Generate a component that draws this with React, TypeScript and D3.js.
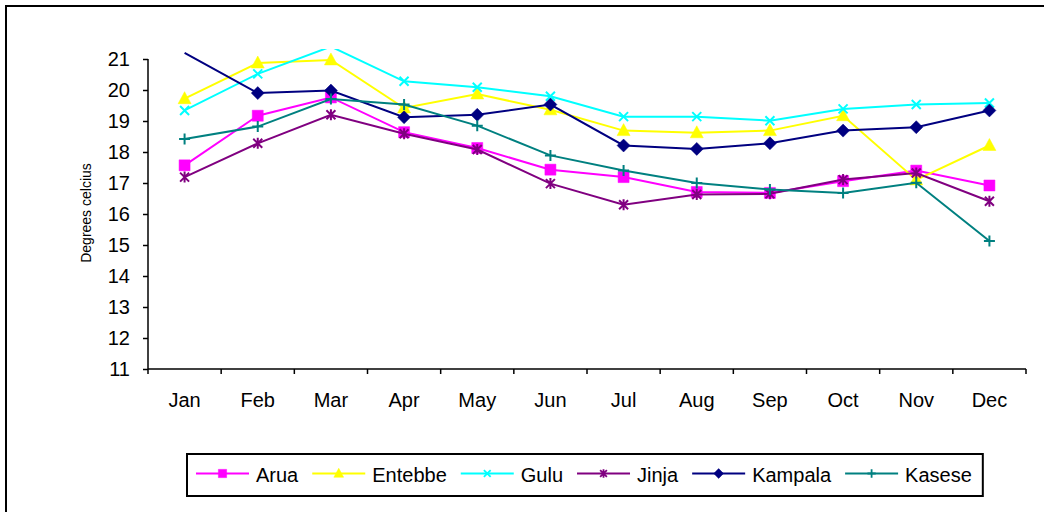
import { useEffect, useRef } from 'react';
import * as d3 from 'd3';

const months = ['Jan', 'Feb', 'Mar', 'Apr', 'May', 'Jun', 'Jul', 'Aug', 'Sep', 'Oct', 'Nov', 'Dec'];
const yTicks = [11, 12, 13, 14, 15, 16, 17, 18, 19, 20, 21];

const arua = [17.57, 19.17, 19.76, 18.64, 18.13, 17.43, 17.19, 16.71, 16.68, 17.06, 17.4, 16.92];
const entebbe = [19.72, 20.87, 20.97, 19.42, 19.87, 19.36, 18.69, 18.62, 18.69, 19.17, 17.1, 18.21];
const gulu = [19.34, 20.52, 21.4, 20.28, 20.09, 19.8, 19.14, 19.14, 19.01, 19.39, 19.53, 19.58];
const jinja = [17.19, 18.28, 19.2, 18.59, 18.08, 16.98, 16.3, 16.63, 16.65, 17.11, 17.32, 16.41];
const kampala = [21.2, 19.9, 19.98, 19.12, 19.2, 19.53, 18.21, 18.1, 18.28, 18.69, 18.8, 19.34];
const kasese = [18.42, 18.82, 19.71, 19.53, 18.85, 17.89, 17.4, 17.0, 16.79, 16.68, 17.01, 15.13];

const seriesNames = ['Arua', 'Entebbe', 'Gulu', 'Jinja', 'Kampala', 'Kasese'];
const seriesValues = [arua, entebbe, gulu, jinja, kampala, kasese];
const seriesColors = ['#FF00FF', '#FFFF00', '#00FFFF', '#800080', '#000080', '#008080'];
const seriesMarkers = ['square', 'triangle', 'x', 'star', 'diamond', 'plus'];

// marker shapes, k = scale
const markerPath = (type: string, k: number) => {
  const s = (v: number) => (v * k).toFixed(2);
  switch (type) {
    case 'square':
      return `M${s(-5.5)},${s(-5.5)}H${s(5.5)}V${s(5.5)}H${s(-5.5)}Z`;
    case 'triangle':
      return `M0,${s(-7)}L${s(6.5)},${s(5)}L${s(-6.5)},${s(5)}Z`;
    case 'diamond':
      return `M0,${s(-6.5)}L${s(6.5)},0L0,${s(6.5)}L${s(-6.5)},0Z`;
    case 'x':
      return `M${s(-4.5)},${s(-4.5)}L${s(4.5)},${s(4.5)}M${s(-4.5)},${s(4.5)}L${s(4.5)},${s(-4.5)}`;
    case 'star':
      return `M${s(-4.5)},${s(-4.5)}L${s(4.5)},${s(4.5)}M${s(-4.5)},${s(4.5)}L${s(4.5)},${s(-4.5)}M0,${s(-5.5)}V${s(5.5)}`;
    case 'plus':
      return `M${s(-5.5)},0H${s(5.5)}M0,${s(-5.5)}V${s(5.5)}`;
  }
  return '';
};
const filled = (type: string) => type === 'square' || type === 'triangle' || type === 'diamond';

const App = () => {
  const ref = useRef<SVGSVGElement>(null);

  useEffect(() => {
    const width = 1044;
    const height = 512;
    const svg = d3.select(ref.current).attr('width', width).attr('height', height);
    svg.selectAll('*').remove();

    const font = 'Arial, "Liberation Sans", sans-serif';

    svg.append('rect').attr('width', width).attr('height', height).attr('fill', '#fff');
    // outer chart border (runs off right/bottom)
    svg.append('rect')
      .attr('x', 6).attr('y', 6).attr('width', 1060).attr('height', 530)
      .attr('fill', 'none').attr('stroke', '#000').attr('stroke-width', 2);

    const x = d3.scaleBand().domain(months).range([148, 1026]).padding(0);
    const y = d3.scaleLinear().domain([11, 21]).range([369, 59]);
    const cx = (m: string) => (x(m) as number) + x.bandwidth() / 2;

    // y axis
    const yAxis = svg.append('g').attr('transform', 'translate(148,0)')
      .call(d3.axisLeft(y).tickValues(yTicks).tickSize(5).tickPadding(13).tickFormat(d3.format('d')));
    yAxis.select('.domain').attr('d', `M0,${y(21)}V${y(11)}`).attr('stroke', '#000').attr('stroke-width', 1.5);
    yAxis.selectAll('.tick line').attr('stroke', '#000').attr('stroke-width', 1.5);
    yAxis.selectAll('.tick text')
      .attr('font-family', font).attr('font-size', 20).attr('fill', '#000');

    // x axis
    const xAxis = svg.append('g').attr('transform', 'translate(0,369)');
    xAxis.append('path').attr('d', `M148,0H1026`).attr('stroke', '#000').attr('stroke-width', 1.5);
    xAxis.selectAll('.xt')
      .data(d3.range(months.length + 1))
      .join('line')
      .attr('x1', (i) => 148 + i * x.bandwidth())
      .attr('x2', (i) => 148 + i * x.bandwidth())
      .attr('y1', 0).attr('y2', 5)
      .attr('stroke', '#000').attr('stroke-width', 1.5);
    xAxis.selectAll('.xl')
      .data(months)
      .join('text')
      .attr('x', (d) => cx(d))
      .attr('y', 38)
      .attr('text-anchor', 'middle')
      .attr('font-family', font).attr('font-size', 20)
      .text((d) => d);

    svg.append('text')
      .attr('transform', 'translate(91,213) rotate(-90)')
      .attr('text-anchor', 'middle')
      .attr('font-family', font).attr('font-size', 14)
      .text('Degrees celcius');

    // plot
    svg.append('clipPath').attr('id', 'plotclip')
      .append('rect').attr('x', 148).attr('y', 49).attr('width', 878).attr('height', 321);
    const plot = svg.append('g').attr('clip-path', 'url(#plotclip)');

    const line = d3.line<number>()
      .x((d, i) => cx(months[i]))
      .y((d) => y(d));

    seriesValues.forEach((vals, si) => {
      const color = seriesColors[si];
      const mk = seriesMarkers[si];
      const g = plot.append('g');
      g.append('path')
        .attr('d', line(vals))
        .attr('fill', 'none')
        .attr('stroke', color)
        .attr('stroke-width', 2);
      g.selectAll('.m')
        .data(vals.map((v, i) => ({ v, i })).filter((d) => d.v <= 21))
        .join('path')
        .attr('transform', (d) => `translate(${cx(months[d.i])},${y(d.v)})`)
        .attr('d', markerPath(mk, 1))
        .attr('fill', filled(mk) ? color : 'none')
        .attr('stroke', color)
        .attr('stroke-width', filled(mk) ? 0.5 : 2);
    });

    // legend
    const legend = svg.append('g');
    const box = legend.append('rect')
      .attr('fill', 'none').attr('stroke', '#000').attr('stroke-width', 2);
    let lx = 196;
    const ly = 473.5;
    seriesNames.forEach((name, si) => {
      const color = seriesColors[si];
      const mk = seriesMarkers[si];
      if (si > 0) lx += 14;
      legend.append('line')
        .attr('x1', lx).attr('x2', lx + 53).attr('y1', ly).attr('y2', ly)
        .attr('stroke', color).attr('stroke-width', 2);
      legend.append('path')
        .attr('transform', `translate(${lx + 26.5},${ly})`)
        .attr('d', markerPath(mk, 0.75))
        .attr('fill', filled(mk) ? color : 'none')
        .attr('stroke', color)
        .attr('stroke-width', filled(mk) ? 0.5 : 1.8);
      const t = legend.append('text')
        .attr('x', lx + 60).attr('y', 482)
        .attr('font-family', font).attr('font-size', 20)
        .text(name);
      const w = (t.node() as SVGTextElement).getComputedTextLength();
      lx += 60 + w;
    });
    box.attr('x', 187).attr('y', 454).attr('width', lx + 11 - 187).attr('height', 42);
  }, []);

  return (
    <svg ref={ref} style={{ position: 'absolute', left: 0, top: 0, display: 'block' }}></svg>
  );
};

export default App;
